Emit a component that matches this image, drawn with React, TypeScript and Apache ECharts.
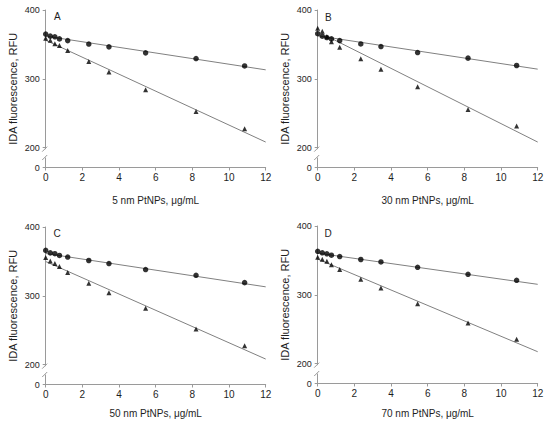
import React, { useEffect, useRef } from "react";
import * as echarts from "echarts";

// ---- data ----
const concentrations = [0, 0.25, 0.5, 0.75, 1.2, 2.35, 3.45, 5.45, 8.2, 10.85];

const circlesA = [365, 362, 361, 358, 355.5, 350.5, 346.4, 337.7, 329.4, 318.7];
const trianglesA = [359, 356, 351, 348.5, 341, 325, 310, 284.2, 252.5, 227.3];
const fitCirclesA = [[0, 362], [12, 313]];
const fitTrianglesA = [[0, 356], [12, 208]];

const circlesB = [365.5, 362, 360, 358, 355.5, 350.7, 346.8, 338.1, 330, 319.3];
const trianglesB = [373.5, 369, 361, 354, 346, 329, 314, 288.4, 255.5, 231.4];
const fitCirclesB = [[0, 362.5], [12, 314]];
const fitTrianglesB = [[0.5, 362], [12, 208]];

const circlesC = [366, 362.4, 361.2, 358.6, 356.3, 351.3, 346.9, 338.1, 329.8, 319.1];
const trianglesC = [355.5, 350.7, 347, 342.7, 334, 318.2, 304.4, 282, 251.8, 227.4];
const fitCirclesC = [[0, 361.5], [12, 313]];
const fitTrianglesC = [[0, 349.8], [12, 208]];

const circlesD = [363.2, 361, 359.6, 357.6, 355.6, 351.3, 347.7, 340, 329.8, 321];
const trianglesD = [354.6, 351.7, 348.8, 343.8, 336.8, 322.5, 309.8, 287, 258.8, 235.5];
const fitCirclesD = [[0, 360.5], [12, 315.2]];
const fitTrianglesD = [[0, 351.8], [12, 217.2]];

const panelLetters = ["A", "B", "C", "D"];
const particleSizes = ["5 nm", "30 nm", "50 nm", "70 nm"];
const xTicks = [0, 2, 4, 6, 8, 10, 12];
const yTicks = [0, 200, 300, 400];
const yAxisTitle = "IDA fluorescence, RFU";
const xAxisUnit = "PtNPs, μg/mL";

// ---- layout / style ----
const FONT = "'Liberation Sans', Arial, Helvetica, sans-serif";
const AXIS_COLOR = "#9a9a9a";
const TEXT_COLOR = "#1e1e1e";
const FIT_COLOR = "#808080";
const AXIS_FLOOR = 171; // the value drawn as "0" below the axis break
const AXIS_TOP = 400;
const gridLefts = [45.7, 317.7, 45.7, 317.7];
const gridTops = [10, 10, 227, 226];
const gridWidth = 220;
const gridHeight = 157.5;
const xNameGaps = [28, 28, 24, 25];
const letterPos = [
  [54, 11],
  [325, 12],
  [53.5, 228.5],
  [324.5, 228.5],
];

const panelData = [
  { circles: circlesA, triangles: trianglesA, fitC: fitCirclesA, fitT: fitTrianglesA },
  { circles: circlesB, triangles: trianglesB, fitC: fitCirclesB, fitT: fitTrianglesB },
  { circles: circlesC, triangles: trianglesC, fitC: fitCirclesC, fitT: fitTrianglesC },
  { circles: circlesD, triangles: trianglesD, fitC: fitCirclesD, fitT: fitTrianglesD },
];

const tickValue = (v: number) => (v === 0 ? AXIS_FLOOR : v);

function buildOption() {
  const grid = panelData.map((_, i) => ({
    left: gridLefts[i],
    top: gridTops[i],
    width: gridWidth,
    height: gridHeight,
    containLabel: false,
  }));

  const xAxis = panelData.map((_, i) => ({
    gridIndex: i,
    type: "value",
    min: xTicks[0],
    max: xTicks[xTicks.length - 1],
    interval: 2,
    name: `${particleSizes[i]} ${xAxisUnit}`,
    nameLocation: "middle",
    nameGap: xNameGaps[i],
    nameTextStyle: { fontSize: 10, color: TEXT_COLOR, fontFamily: FONT },
    axisLine: { show: true, onZero: false, lineStyle: { color: AXIS_COLOR, width: 1 } },
    axisTick: { show: true, length: 3, inside: false, lineStyle: { color: AXIS_COLOR } },
    axisLabel: { fontSize: 10, color: TEXT_COLOR, fontFamily: FONT, margin: 5 },
    splitLine: { show: false },
  }));

  const yValues = yTicks.map(tickValue);
  const yAxis = panelData.map((_, i) => ({
    gridIndex: i,
    type: "value",
    min: AXIS_FLOOR,
    max: AXIS_TOP,
    name: yAxisTitle,
    nameLocation: "middle",
    nameGap: 27,
    nameTextStyle: { fontSize: 11, color: TEXT_COLOR, fontFamily: FONT },
    axisLine: { show: true, onZero: false, lineStyle: { color: AXIS_COLOR, width: 1 } },
    axisTick: { show: true, length: 3, customValues: yValues, lineStyle: { color: AXIS_COLOR } },
    axisLabel: {
      customValues: yValues,
      fontSize: 9,
      color: TEXT_COLOR,
      fontFamily: FONT,
      margin: 6,
      formatter: (v: number) => (Math.abs(v - AXIS_FLOOR) < 0.01 ? "0" : String(v)),
    },
    splitLine: { show: false },
  }));

  const series: any[] = [];
  panelData.forEach((p, i) => {
    series.push({
      type: "line",
      xAxisIndex: i,
      yAxisIndex: i,
      data: p.fitC,
      symbol: "none",
      lineStyle: { color: FIT_COLOR, width: 1 },
      z: 2,
    });
    series.push({
      type: "line",
      xAxisIndex: i,
      yAxisIndex: i,
      data: p.fitT,
      symbol: "none",
      lineStyle: { color: FIT_COLOR, width: 1 },
      z: 2,
    });
    series.push({
      type: "scatter",
      xAxisIndex: i,
      yAxisIndex: i,
      data: concentrations.map((x, j) => [x, p.circles[j]]),
      symbol: "circle",
      symbolSize: 5.5,
      itemStyle: { color: "#000" },
      z: 3,
    });
    series.push({
      type: "scatter",
      xAxisIndex: i,
      yAxisIndex: i,
      data: concentrations.map((x, j) => [x, p.triangles[j]]),
      symbol: "triangle",
      symbolSize: 5,
      itemStyle: { color: "#000" },
      z: 4,
    });
    // axis break marks
    series.push({
      type: "custom",
      xAxisIndex: i,
      yAxisIndex: i,
      data: [[0, AXIS_FLOOR]],
      clip: false,
      silent: true,
      z: 5,
      renderItem: (params: any, api: any) => {
        const top = api.coord([0, 200]);
        const bot = api.coord([0, AXIS_FLOOR]);
        const d = bot[1] - top[1];
        const x = top[0];
        const y1 = top[1] + 0.08 * d;
        const y2 = top[1] + 0.5 * d;
        const stroke = { stroke: AXIS_COLOR, lineWidth: 1 };
        return {
          type: "group",
          children: [
            {
              type: "rect",
              shape: { x: x - 1.5, y: y1, width: 3, height: y2 - y1 },
              style: { fill: "#ffffff" },
            },
            {
              type: "line",
              shape: { x1: x - 3.5, y1: y1 + 2.5, x2: x + 1.5, y2: y1 - 2.5 },
              style: stroke,
            },
            {
              type: "line",
              shape: { x1: x - 3.5, y1: y2 + 2.5, x2: x + 1.5, y2: y2 - 2.5 },
              style: stroke,
            },
          ],
        };
      },
    });
  });

  const graphic = panelLetters.map((l, i) => ({
    type: "text",
    x: letterPos[i][0],
    y: letterPos[i][1],
    style: { text: l, fontSize: 10, fill: TEXT_COLOR, font: `10px ${FONT}` },
    z: 10,
  }));

  return {
    animation: false,
    backgroundColor: "#ffffff",
    textStyle: { fontFamily: FONT },
    grid,
    xAxis,
    yAxis,
    series,
    graphic,
  };
}

export default function App() {
  const ref = useRef<HTMLDivElement>(null);
  useEffect(() => {
    if (!ref.current) return;
    const chart = echarts.init(ref.current, undefined, { renderer: "svg" });
    chart.setOption(buildOption() as any);
    return () => chart.dispose();
  }, []);
  return (
    <div
      ref={ref}
      style={{ position: "absolute", left: 0, top: 0, width: 550, height: 427, background: "#fff" }}
    />
  );
}
